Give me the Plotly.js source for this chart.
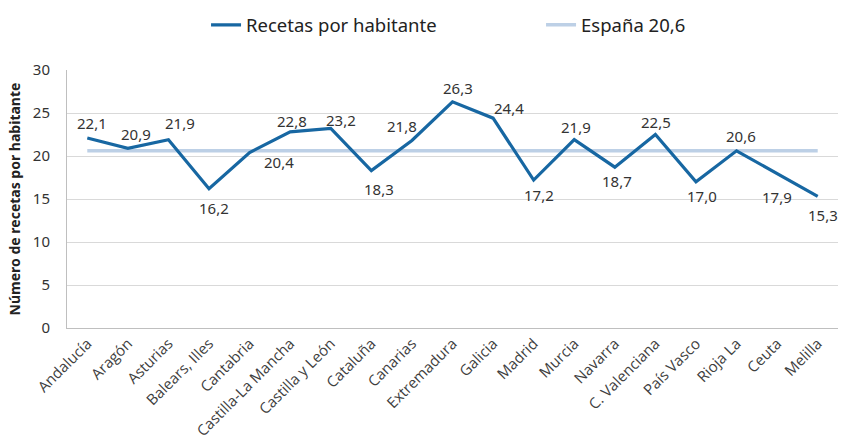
<!DOCTYPE html>
<html><head><meta charset="utf-8">
<script src="https://cdn.plot.ly/plotly-3.0.1.min.js"></script>
<style>html,body{margin:0;padding:0;background:#fff;}</style>
</head><body>
<div id="chart" style="width:841px;height:443px;"></div>
<script>
const categories = ["Andalucía","Aragón","Asturias","Balears, Illes","Cantabria","Castilla-La Mancha","Castilla y León","Cataluña","Canarias","Extremadura","Galicia","Madrid","Murcia","Navarra","C. Valenciana","País Vasco","Rioja La","Ceuta","Melilla"];
const recetas = [22.1,20.9,21.9,16.2,20.4,22.8,23.2,18.3,21.8,26.3,24.4,17.2,21.9,18.7,22.5,17.0,20.6,17.9,15.3];
const espanaValue = 20.6;
const espana = categories.map(() => espanaValue);

// label placement offsets in px (style config, not data)
const labelOffsets = [[5,15],[8,14],[12,17],[5,-19],[29,-9],[2,11],[10,8],[8,-18],[-10,15],[5,14],[16,10],[5,-15],[2,13],[2,-14],[1,13],[6,-14],[4,15],[0,-23],[5,-19]];

const fmt = v => v.toFixed(1).replace('.', ',');

const plotData = [
  {x: categories, y: espana, type:'scatter', mode:'lines', name:'España ' + fmt(espanaValue),
   line:{color:'#BDD0E6', width:3.5}},
  {x: categories, y: recetas, type:'scatter', mode:'lines', name:'Recetas por habitante',
   line:{color:'#1767A2', width:3.2}}
];

const annotations = recetas.map((v, i) => ({
  x: categories[i], y: v, xref:'x', yref:'y', text: fmt(v), showarrow:false,
  xshift: labelOffsets[i][0], yshift: labelOffsets[i][1],
  font:{family:'Noto Sans, sans-serif', size:15, color:'#333'}
}));

const layout = {
  width:841, height:443,
  margin:{l:67, r:3, t:70, b:115},
  paper_bgcolor:'#fff', plot_bgcolor:'#fff',
  font:{family:'Noto Sans, sans-serif', color:'#222'},
  showlegend:true,
  legend:{orientation:'h', xref:'container', yref:'container', x:0.245, xanchor:'left', y:0.943, yanchor:'middle',
          font:{size:18.5, color:'#222'}, traceorder:'reversed', entrywidth:290, entrywidthmode:'pixels'},
  xaxis:{type:'category', range:[-0.5, categories.length - 0.5], tickangle:-45, automargin:false,
         tickfont:{family:'Open Sans, sans-serif', size:15, color:'#404040'},
         showline:true, linecolor:'#bfbfbf', linewidth:1, showgrid:false, ticks:'', fixedrange:true},
  yaxis:{range:[0,30], dtick:5, automargin:false, tickfont:{size:15, color:'#333'}, showline:true, linecolor:'#bfbfbf',
         gridcolor:'#d9d9d9', gridwidth:1, zeroline:false, ticks:'', ticklabelstandoff:13,
         title:{text:'Número de recetas por habitante', font:{size:14, color:'#222', weight:'bold'}, standoff:8}},
  annotations: annotations
};
Plotly.newPlot('chart', plotData, layout, {displayModeBar:false, staticPlot:true});
</script>
</body></html>
